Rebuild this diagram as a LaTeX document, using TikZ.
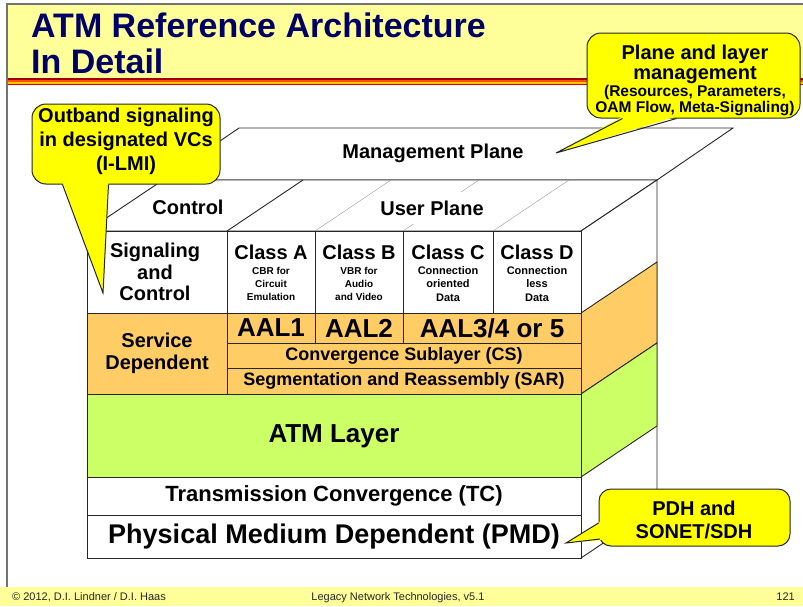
\documentclass[tikz,border=0pt]{standalone}
\usepackage{fontspec}
\setmainfont{Liberation Sans}
\usepackage{tikz}
\usetikzlibrary{calc}

\definecolor{titleblue}{RGB}{0,0,102}
\definecolor{paleyellow}{RGB}{255,255,153}
\definecolor{bubbleyellow}{RGB}{255,255,0}
\definecolor{serviceorange}{RGB}{255,204,102}
\definecolor{atmgreen}{RGB}{204,255,102}
\definecolor{darkstripe}{RGB}{160,0,0}
\definecolor{midstripe}{RGB}{255,80,0}
\definecolor{lightstripe}{RGB}{255,200,0}
\definecolor{lowstripe}{RGB}{210,0,0}

\newcommand{\fsize}[2]{\fontsize{#1}{#2}\selectfont\bfseries}

\tikzset{
  edge/.style={draw=black!85, line width=0.9pt},
  faint/.style={draw=black!40, line width=0.4pt},
  lbl/.style={align=center, inner sep=0pt},
  bubblebox/.style={draw=black!85, fill=bubbleyellow, line width=1pt,
                    rounded corners=14pt, inner sep=0pt},
  footer/.style={inner sep=0pt, font=\fontsize{11}{11}\selectfont, text=black!85},
}

\begin{document}
\begin{tikzpicture}[x=1pt, y=-1pt]
\useasboundingbox (0,0) rectangle (803,606);

% Title band, stripe, footer band
\fill[paleyellow] (7,4) rectangle (803,78);
\fill[darkstripe] (7,78) rectangle (803,80);
\fill[midstripe] (7,80) rectangle (803,81.5);
\fill[lightstripe] (7,81.5) rectangle (803,83.5);
\fill[lowstripe] (7,83.5) rectangle (803,85);
\fill[paleyellow] (0,587) rectangle (803,606);
\draw[black!55, line width=1.5pt] (7,587) -- (7,4) -- (803,4);

% Title
\node[lbl, anchor=base west, text=titleblue, font=\fsize{34}{34}] (title) at (31,37.5) {ATM Reference Architecture};
\node[lbl, anchor=base west, text=titleblue, font=\fsize{34}{34}] (subtitle) at (31,73) {In Detail};

% Footer
\node[footer, anchor=base west] (copyr) at (12,600.5) {\textcopyright\ 2012, D.I. Lindner / D.I. Haas};
\node[footer, anchor=base] (course) at (398,600.5) {Legacy Network Technologies, v5.1};
\node[footer, anchor=base east] (pageno) at (795,600.5) {121};

% Management plane (top, rear)
\filldraw[edge, fill=white] (163,180) -- (239,128) -- (733,128) -- (657,180) -- cycle;
\node[lbl, font=\fsize{20}{20}] (mgmt) at (433,153) {Management Plane};

% Control and user plane (top)
\filldraw[edge, fill=white] (87,231) -- (163,180) -- (657,180) -- (581,231) -- cycle;
\draw[edge] (227,231) -- (303,180);
\foreach \x in {315,403,493}
  \draw[faint] (\x,231) -- ++(76,-51);
\node[lbl, font=\fsize{20}{20}] (ctrl) at (188,207) {Control};
\node[lbl, font=\fsize{20}{20}, fill=white, inner xsep=4pt, inner ysep=9pt] (user) at (432,208) {User Plane};

% Right side
\filldraw[edge, fill=white] (581,231) -- (657,180) -- (657,507) -- (581,558) -- cycle;
\filldraw[edge, fill=serviceorange] (581,313) -- (657,262) -- (657,343) -- (581,394) -- cycle;
\filldraw[edge, fill=atmgreen] (581,394) -- (657,343) -- (657,426) -- (581,477) -- cycle;

% Signaling and service classes
\foreach \xa/\xb in {87/227, 227/315, 315/403, 403/493, 493/581}
  \filldraw[edge, fill=white] (\xa,231) rectangle (\xb,313);
\node[lbl, font=\fsize{20}{21.5}] (sig) at (155,272) {Signaling\\and\\Control};
\foreach \x/\n/\c/\s/\d in {271/clsA/A/10/{CBR for\\Circuit\\Emulation},
                             359/clsB/B/10/{VBR for\\Audio\\and Video},
                             448/clsC/C/11/{Connection\\oriented\\Data},
                             537/clsD/D/11/{Connection\\less\\Data}}
{
  \node[lbl, font=\fsize{20}{20}] (\n) at (\x,252) {Class \c};
  \node[lbl, font=\fsize{\s}{13.3}] (\n-txt) at (\x,284) {\d};
}

% Service dependent part (AAL)
\filldraw[edge, fill=serviceorange] (87,313) rectangle (227,394);
\foreach \xa/\xb in {227/315, 315/403, 403/581}
  \filldraw[edge, fill=serviceorange] (\xa,313) rectangle (\xb,343);
\filldraw[edge, fill=serviceorange] (227,343) rectangle (581,368);
\filldraw[edge, fill=serviceorange] (227,368) rectangle (581,394);
\node[lbl, font=\fsize{20}{22}] (svc) at (157,353) {Service\\Dependent};
\node[lbl, font=\fsize{26}{26}] (aal1) at (271,328) {AAL1};
\node[lbl, font=\fsize{26}{26}] (aal2) at (359,328) {AAL2};
\node[lbl, font=\fsize{26}{26}] (aal5) at (492,328) {AAL3/4 or 5};
\node[lbl, font=\fsize{18}{18}] (cs) at (404,356) {Convergence Sublayer (CS)};
\node[lbl, font=\fsize{18}{18}] (sar) at (404,381) {Segmentation and Reassembly (SAR)};

% ATM layer and physical layer
\filldraw[edge, fill=atmgreen] (87,394) rectangle (581,477);
\filldraw[edge, fill=white] (87,477) rectangle (581,515);
\filldraw[edge, fill=white] (87,515) rectangle (581,558);
\node[lbl, font=\fsize{26}{26}] (atm) at (334,436) {ATM Layer};
\node[lbl, font=\fsize{22}{22}] (tc) at (334,496) {Transmission Convergence (TC)};
\node[lbl, font=\fsize{27}{27}] (pmd) at (334,537) {Physical Medium Dependent (PMD)};

% Callout: outband signaling
\node[bubblebox, minimum width=188pt, minimum height=80pt] (outband) at (126,144) {};
\coordinate (outbandtip) at (103,293);
\fill[bubbleyellow] ($(outband.south west)+(31,-2)$) -- (outbandtip) -- ($(outband.south west)+(77,-2)$) -- cycle;
\draw[black!85, line width=1pt] ($(outband.south west)+(31,0)$) -- (outbandtip) -- ($(outband.south west)+(77,0)$);
\node[lbl, font=\fsize{20}{24}] (outbandtxt) at (126,141) {Outband signaling\\in designated VCs\\(I-LMI)};

% Callout: plane and layer management
\node[bubblebox, minimum width=213pt, minimum height=85pt] (planemgmt) at (693.5,75.5) {};
\coordinate (planetip) at (556,153);
\fill[bubbleyellow] ($(planemgmt.south west)+(36,-2)$) -- (planetip) -- ($(planemgmt.south west)+(90,-2)$) -- cycle;
\draw[black!85, line width=1pt] ($(planemgmt.south west)+(36,0)$) -- (planetip) -- ($(planemgmt.south west)+(90,0)$);
\node[lbl, font=\fsize{20}{20}] (planetxt) at (695,64) {Plane and layer\\management};
\node[lbl, font=\fsize{15.5}{16.6}] (planesub) at (695,100.5) {(Resources, Parameters,\\OAM Flow, Meta-Signaling)};

% Callout: PDH and SONET/SDH
\node[bubblebox, rounded corners=12pt, minimum width=191pt, minimum height=57pt] (pdh) at (694.5,517.5) {};
\coordinate (pdhtip) at (566,543);
\fill[bubbleyellow] ($(pdh.west)+(3,3.5)$) -- (pdhtip) -- ($(pdh.west)+(4,22.5)$) -- cycle;
\draw[black!85, line width=1pt] ($(pdh.west)+(0,5.5)$) -- (pdhtip) -- ($(pdh.west)+(1.5,21.5)$);
\node[lbl, font=\fsize{20}{23.4}] (pdhtxt) at (694,520) {PDH and\\SONET/SDH};

\end{tikzpicture}
\end{document}
